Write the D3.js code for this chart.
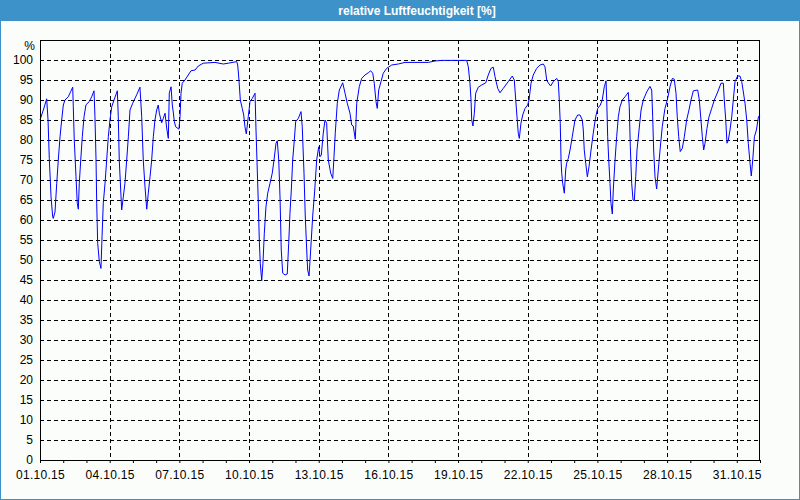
<!DOCTYPE html>
<html><head><meta charset="utf-8">
<script src="https://cdn.jsdelivr.net/npm/d3@7"></script>
<style>
body{margin:0;padding:0;background:#fbfdfb;}
svg{display:block;}
text{font-family:"Liberation Sans",Arial,sans-serif;}
</style></head>
<body><svg id="chart" width="800" height="500"></svg>
<script>
const title = "relative Luftfeuchtigkeit [%]";
const unitLabel = "%";
const startDate = new Date(2015, 9, 1);
const endDate = new Date(2015, 10, 1);
const xTickLabels = ["01.10.15","04.10.15","07.10.15","10.10.15","13.10.15","16.10.15","19.10.15","22.10.15","25.10.15","28.10.15","31.10.15"];
const yTicks = [0,5,10,15,20,25,30,35,40,45,50,55,60,65,70,75,80,85,90,95,100];
// hours since 01.10.15 00:00
const hours = [0,4.1,6.9,8.3,9.6,11.4,13.1,13.7,15.5,17.3,18.9,20.7,22.4,24.1,25.8,29.2,31.7,33.8,34.4,35.4,37.2,38.5,39.6,40.6,42.1,43.7,45.5,47.5,50.9,53.4,55.8,56.8,57.9,58.6,59.6,61.3,63.0,64.1,65.4,67.2,68.9,70.6,72.3,74.1,76.5,79.9,80.9,81.9,83.4,84.4,86.1,87.8,89.6,91.3,93.0,95.8,99.9,103.3,105.1,106.7,108.5,110.3,111.9,113.7,115.4,117.1,118.8,120.6,122.2,123.3,125.7,127.4,129.2,130.9,132.6,133.6,135.4,136.7,137.7,138.8,140.2,143.6,144.7,145.7,147.0,149.8,153.2,156.0,160.2,163.6,168.7,180.8,189.4,194.6,203.3,204.3,205.6,207.0,209.0,210.5,211.8,213.2,215.2,217.0,219.4,222.2,223.2,224.2,225.6,226.6,227.6,229.1,230.4,231.8,233.5,235.3,237.7,240.0,241.8,243.9,245.2,246.7,248.0,249.3,250.8,253.2,255.5,257.0,258.3,259.7,261.1,262.8,264.2,266.9,269.7,271.0,272.8,274.1,275.6,276.6,278.0,279.7,281.8,283.9,285.9,288.0,289.3,290.7,292.7,294.5,296.2,297.9,300.4,302.5,303.8,305.1,307.2,309.3,312.8,315.2,317.5,320.3,322.1,323.7,325.8,327.3,329.9,332.4,335.8,339.2,341.7,343.8,345.4,347.2,348.5,350.0,352.4,354.7,358.2,363.4,370.2,377.2,401.2,408.2,415.1,440.9,442.6,444.3,445.4,446.1,447.4,448.8,450.2,452.9,456.4,460.6,463.2,466.0,468.4,470.2,473.0,475.3,478.7,483.9,488.0,490.1,491.6,492.9,494.2,495.3,497.0,498.8,501.2,503.9,505.3,507.4,509.7,513.2,516.7,520.1,521.8,523.6,525.2,527.7,530.4,533.9,535.6,536.6,537.6,538.4,539.1,540.1,541.8,543.2,544.2,545.9,547.7,550.0,552.8,555.6,558.0,560.4,561.4,562.4,563.9,565.6,567.3,569.4,571.7,574.2,576.3,579.0,581.0,583.1,584.9,585.6,586.6,587.7,589.0,590.0,591.4,592.4,594.2,595.9,597.6,599.3,601.7,604.5,607.9,608.9,610.0,611.4,612.8,614.1,615.6,616.9,619.0,621.1,623.4,626.9,630.3,632.1,633.1,634.1,635.5,637.2,638.9,640.7,643.0,645.8,648.2,651.0,653.4,655.4,657.2,658.5,660.0,661.6,663.7,665.8,668.2,670.6,672.7,675.1,679.6,681.3,683.0,684.4,685.8,687.2,689.2,691.3,694.1,696.8,700.3,703.7,706.1,707.1,708.6,709.9,711.3,713.0,714.8,716.4,718.2,720.9,723.3,725.1,726.8,728.5,730.3,731.9,733.7,735.0,736.5,738.2,740.3,742.4,744.0];
const humidity = [85,88,90.3,85,75.4,65.8,60.8,60.4,62,69.2,75,80.8,85,88.75,90,90.8,92.1,93.2,88.3,80,70.8,64.2,62.7,69.2,75,80.8,85.8,88.8,89.6,90.8,92.3,85.8,75,64.2,54.2,49.6,47.9,55.8,64.2,69.2,75,80.8,85,88.3,90,92.3,85.8,75,67.5,62.5,65.8,69.2,75,80.8,87.5,89.2,91.3,93.2,85.8,75,68.3,62.7,66.7,70.8,75,80.8,85,87.5,88.75,86.7,84.3,85.4,86.7,83,80.4,91.7,93.3,88.75,87,84.6,83.3,82.7,85.8,91.7,94.2,95,96.25,97.3,97.5,98.5,99.2,99.4,99,99.2,99.6,98.75,95,90,87.9,86.25,83.3,81.5,85.8,89.6,90.4,91.7,82.5,75,64.2,55,49.2,44.8,49.2,56.7,63.3,66.7,69.2,71.7,75,79.2,79.8,75,65.8,52.5,46.7,46.25,46.5,54.2,61.7,67.5,75,80,84.6,85.4,87.1,83.3,71.7,61,52.5,47.5,46,52.5,61,67.5,75,78.3,75.8,76.25,81.7,85,84.2,75,71.7,70.4,75.8,81.7,89.2,92.5,94.3,91.7,89.2,86.7,83.75,83.5,80.2,89.2,93.3,95.4,96.25,96.8,97.3,96.7,94.2,89.6,87.9,92.5,94.6,96.7,97.9,98.75,99,99.4,99.4,99.75,99.9,99.9,98.3,94.2,90,85,83.5,86.7,91.7,93.2,93.75,94.3,96.25,97.9,98.2,95.8,92.9,91.8,92.9,94.6,96,95,90,85.8,81.7,80.4,84.2,86.25,87.9,88.75,90,94.2,96.25,97.9,98.75,99,98.3,95,94.3,93.5,94.6,95.4,94.6,90,84.2,75,71.7,69.2,66.7,72.5,74.2,75.4,77.5,80.8,85,86.25,86.25,85,82.5,77.5,74.2,70.8,73.3,77.5,81.7,85.8,87.9,88.75,90,93.3,94.8,90,80.8,75,69.2,64.2,61.5,67.5,75,80.8,85.8,88.3,90,90.8,91.9,88.3,78.3,69.2,65,64.8,70.8,77.5,82.5,87.5,90,92,93.4,92.5,85.8,77.5,70.8,67.75,72.5,77.5,83.3,87.9,90,93.3,95.4,95.2,91.7,85.8,80.8,77.1,77.9,80.8,85,87.5,90,92.3,92.5,90,85,80.8,77.5,79.2,82.9,85.8,87.9,90,92,94.2,94.2,90,85,79.2,80,82.5,85.8,90,94.6,96,96,94.6,92,89.2,85,79.2,74.2,71,75,80.8,82.5,85.8,86.25];

const svg = d3.select("#chart");
const W = 800, H = 500;
const m = {left:40, right:40, top:40, bottom:40};
const blue = "#3d93c9";

svg.append("rect").attr("x",0).attr("y",0).attr("width",W).attr("height",H).attr("fill","#fbfdfb");
svg.append("rect").attr("x",0.5).attr("y",0.5).attr("width",W-1).attr("height",H-1).attr("fill","none").attr("stroke",blue);
svg.append("rect").attr("x",0).attr("y",0).attr("width",W).attr("height",21).attr("fill",blue);
svg.append("text").attr("x",W/2 + 17).attr("y",15).attr("text-anchor","middle").attr("fill","#ffffff")
  .attr("font-size","12px").attr("font-weight","bold").text(title);

const x = d3.scaleTime().domain([startDate,endDate]).range([m.left, W - m.right]);
const y = d3.scaleLinear().domain([0,105]).range([H - m.bottom, m.top]);

const dayTicks = d3.timeDay.range(startDate, d3.timeDay.offset(endDate,1));
const labelTicks = xTickLabels.map(s => { const p = s.split("."); return new Date(2000+ +p[2], +p[1]-1, +p[0]); });

// grid
const g = svg.append("g");
g.selectAll("line.hg").data(yTicks.filter(v=>v>0)).join("line")
  .attr("x1",m.left).attr("x2",W-m.right)
  .attr("y1",d=>Math.round(y(d))+0.5).attr("y2",d=>Math.round(y(d))+0.5)
  .attr("stroke","#000").attr("stroke-width",1).attr("stroke-dasharray","4,3");
g.selectAll("line.vg").data(labelTicks.slice(1)).join("line")
  .attr("x1",d=>Math.round(x(d))+0.5).attr("x2",d=>Math.round(x(d))+0.5)
  .attr("y1",m.top).attr("y2",H-m.bottom)
  .attr("stroke","#000").attr("stroke-width",1).attr("stroke-dasharray","4,3");

// data line
const pts = hours.map((h,i)=>({t:new Date(startDate.getTime()+h*3600000), v:humidity[i]}));
svg.append("path").datum(pts)
  .attr("fill","none").attr("stroke","#0000ff").attr("stroke-width",1)
  .attr("d", d3.line().x(d=>x(d.t)).y(d=>y(d.v)));

// frame
svg.append("rect").attr("x",m.left+0.5).attr("y",m.top+0.5)
  .attr("width",W-m.left-m.right-1).attr("height",H-m.top-m.bottom)
  .attr("fill","none").attr("stroke","#000");

// y axis labels
const fmt = d3.format("d");
svg.append("g").selectAll("text").data(yTicks).join("text")
  .attr("x",33).attr("y",d=>y(d)+4).attr("text-anchor","end")
  .attr("font-size","12px").attr("fill","#000").text(d=>fmt(d));
svg.append("text").attr("x",35).attr("y",50).attr("text-anchor","end")
  .attr("font-size","12px").attr("fill","#000").text(unitLabel);

// x axis via d3.axisBottom
const xAxis = d3.axisBottom(x).tickValues(dayTicks).tickSize(3).tickFormat(d => {
  const i = labelTicks.findIndex(l => l.getTime()===d.getTime());
  return i>=0 ? xTickLabels[i] : "";
});
const ax = svg.append("g").attr("transform",`translate(0,${H-m.bottom})`).call(xAxis);
ax.select(".domain").remove();
ax.selectAll("line").attr("stroke","#000");
ax.selectAll("text").attr("font-size","12px").attr("fill","#000").attr("font-family","'Liberation Sans',Arial,sans-serif").attr("letter-spacing","0.3px").attr("y",19).attr("dy",null);
</script></body></html>
